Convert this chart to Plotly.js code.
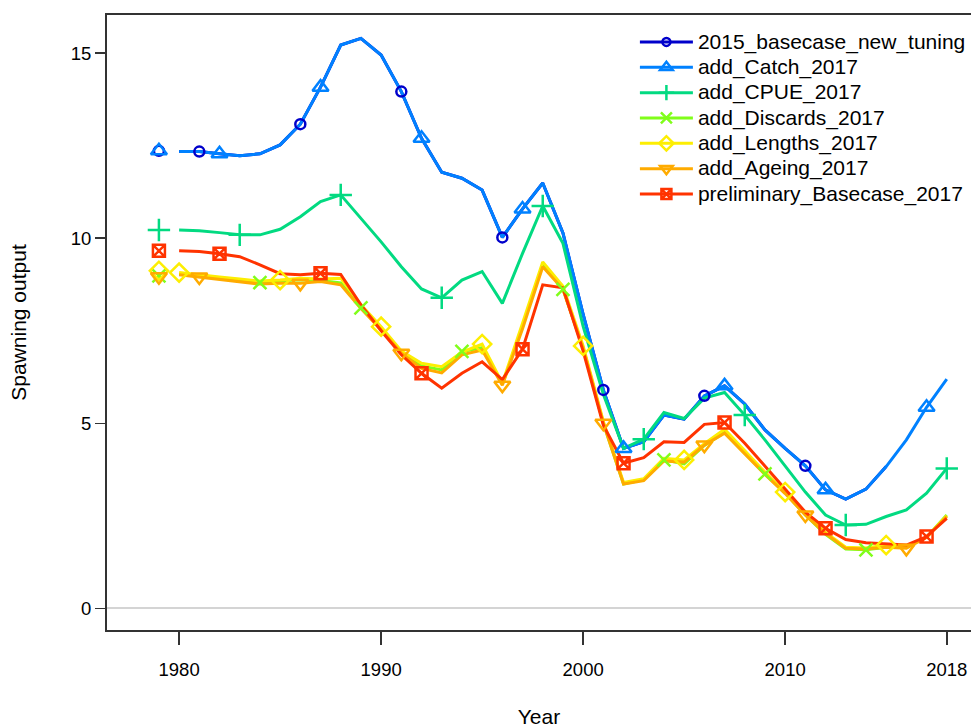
<!DOCTYPE html>
<html>
<head>
<meta charset="utf-8">
<script src="https://cdn.plot.ly/plotly-3.0.1.min.js"></script>
<style>
  html, body { margin: 0; padding: 0; background: #ffffff; }
  #chart { width: 971px; height: 728px; }
</style>
</head>
<body>
<div id="chart"></div>
<script>
// ---- Data ----
const modelNames = [
  "2015_basecase_new_tuning",
  "add_Catch_2017",
  "add_CPUE_2017",
  "add_Discards_2017",
  "add_Lengths_2017",
  "add_Ageing_2017",
  "preliminary_Basecase_2017"
];

const virginYear = 1979;

const years = [1980,1981,1982,1983,1984,1985,1986,1987,1988,1989,
               1990,1991,1992,1993,1994,1995,1996,1997,1998,1999,
               2000,2001,2002,2003,2004,2005,2006,2007,2008,2009,
               2010,2011,2012,2013,2014,2015,2016,2017,2018];

// virgin (unfished) spawning output, plotted at 1979
const virginValues = [12.36, 12.36, 10.22, 8.98, 9.12, 8.96, 9.66];

const basecase2015 = [12.34,12.34,12.28,12.23,12.28,12.52,13.08,14.08,15.22,15.40,
                      14.95,13.96,12.70,11.78,11.62,11.30,10.02,10.79,11.49,10.14,
                      7.94,5.90,4.32,4.50,5.22,5.11,5.74,6.01,5.52,4.82,
                      4.32,3.85,3.20,2.95,3.22,3.83];
const addCatch = [12.34,12.34,12.28,12.23,12.28,12.52,13.08,14.08,15.22,15.40,
                  14.95,13.96,12.70,11.78,11.62,11.30,10.02,10.79,11.49,10.14,
                  7.94,5.90,4.32,4.50,5.22,5.11,5.74,6.01,5.52,4.82,
                  4.32,3.85,3.20,2.95,3.22,3.83,4.55,5.43,6.19];
const addCPUE = [10.22,10.20,10.15,10.09,10.09,10.24,10.58,10.99,11.17,10.55,
                 9.90,9.23,8.63,8.39,8.87,9.10,8.24,9.59,10.87,9.86,
                 7.62,5.78,4.32,4.57,5.29,5.13,5.68,5.83,5.22,4.55,
                 3.86,3.14,2.52,2.25,2.27,2.48,2.66,3.11,3.78];
const addDiscards = [9.03,8.97,8.92,8.87,8.80,8.85,8.88,8.86,8.79,8.12,
                     7.56,6.91,6.55,6.44,6.94,7.04,6.05,7.62,9.30,8.62,
                     7.04,5.00,3.36,3.48,4.01,3.90,4.40,4.75,4.20,3.63,
                     3.12,2.52,2.00,1.60,1.58,1.65,1.68,1.92,2.52];
const addLengths = [9.07,9.00,8.95,8.90,8.84,8.87,8.92,8.90,8.92,8.20,
                    7.61,6.95,6.62,6.53,6.92,7.14,6.08,7.70,9.36,8.70,
                    7.09,5.05,3.40,3.50,4.05,4.01,4.45,4.84,4.25,3.68,
                    3.14,2.55,2.05,1.65,1.63,1.71,1.68,1.92,2.50];
const addAgeing = [9.01,8.95,8.89,8.84,8.76,8.78,8.78,8.83,8.74,8.10,
                   7.52,6.89,6.48,6.36,6.85,6.98,6.03,7.55,9.23,8.62,
                   7.02,5.00,3.36,3.45,3.98,3.95,4.41,4.73,4.18,3.62,
                   3.10,2.52,2.02,1.62,1.60,1.65,1.62,1.92,2.48];
const prelimBase = [9.66,9.64,9.58,9.50,9.28,9.04,9.01,9.05,9.02,8.20,
                    7.50,6.85,6.35,5.95,6.35,6.66,6.18,7.00,8.74,8.66,
                    6.95,4.95,3.92,4.07,4.50,4.48,4.97,5.02,4.46,3.83,
                    3.20,2.60,2.16,1.86,1.77,1.74,1.71,1.94,2.43];

const seriesValues = [basecase2015, addCatch, addCPUE, addDiscards, addLengths, addAgeing, prelimBase];

const xTickVals = [1980, 1990, 2000, 2010, 2018];
const yTickVals = [0, 5, 10, 15];

// ---- Styles ----
const colors = ['#0000CB', '#0081FF', '#02DA81', '#80FE1A', '#FDEE02', '#FFAB00', '#FF3300'];
const symbols = ['circle-open', 'triangle-up-open', 'cross-thin-open', 'x-thin-open',
                 'diamond-open', 'triangle-down-open', 'square-x-open'];
const msizes = [10, 14, 16, 13, 14, 14, 12];
const FONT = 'Liberation Sans, Arial, sans-serif';

const lineTraces = [];
const markerTraces = [];
const legendTraces = [];

seriesValues.forEach((vals, i) => {
  const yrs = years.slice(0, vals.length);
  lineTraces.push({
    type: 'scatter', mode: 'lines', x: yrs, y: vals,
    line: {color: colors[i], width: 3},
    showlegend: false, hoverinfo: 'skip', legendgroup: 'g' + i
  });
  // markers every 5th year (staggered by model), plus virgin point
  const mx = [virginYear], my = [virginValues[i]];
  yrs.forEach((yr, k) => {
    if ((((yr - (1981 + i)) % 5) + 5) % 5 === 0) { mx.push(yr); my.push(vals[k]); }
  });
  markerTraces.push({
    type: 'scatter', mode: 'markers', x: mx, y: my,
    marker: {symbol: symbols[i], size: msizes[i], color: colors[i],
             line: {color: colors[i], width: 2.5}},
    showlegend: false, hoverinfo: 'skip', legendgroup: 'g' + i
  });
  legendTraces.push({
    type: 'scatter', mode: 'lines+markers', x: [null], y: [null],
    name: '<span style="font-size:21px">' + modelNames[i] + '</span>',
    line: {color: colors[i], width: 3},
    marker: {symbol: symbols[i], size: Math.min(msizes[i] - 2, 11), color: colors[i],
             line: {color: colors[i], width: 2.5}},
    showlegend: true, legendgroup: 'g' + i
  });
});

const data = lineTraces.concat(markerTraces).concat(legendTraces);

const layout = {
  width: 971, height: 728,
  margin: {l: 107, r: 0, t: 15, b: 98, pad: 0},
  paper_bgcolor: '#ffffff', plot_bgcolor: '#ffffff',
  font: {family: FONT, color: '#000000', size: 18},
  showlegend: true,
  legend: {
    x: 0.611, y: 0.985, xanchor: 'left', yanchor: 'top',
    bgcolor: 'rgba(0,0,0,0)', borderwidth: 0,
    font: {family: FONT, size: 17.2, color: '#000000'},
    tracegroupgap: 0, itemwidth: 53,
    traceorder: 'normal'
  },
  xaxis: {
    range: [1976.43, 2019.2],
    tickmode: 'array', tickvals: xTickVals, ticktext: xTickVals.map(String),
    ticks: 'outside', ticklen: 13, tickwidth: 1.5, tickcolor: '#333333',
    ticklabelstandoff: 9,
    showline: true, linecolor: '#333333', linewidth: 2, mirror: true,
    showgrid: false, zeroline: false,
    tickfont: {family: FONT, size: 18.5, color: '#000000'},
    title: {text: 'Year', font: {family: FONT, size: 21, color: '#000000'}, standoff: 32},
    automargin: false
  },
  yaxis: {
    range: [-0.586, 16.03],
    tickmode: 'array', tickvals: yTickVals, ticktext: yTickVals.map(String),
    ticks: 'outside', ticklen: 10, tickwidth: 1.5, tickcolor: '#333333',
    showline: true, linecolor: '#333333', linewidth: 2, mirror: false,
    showgrid: false,
    zeroline: true, zerolinecolor: '#d4d4d4', zerolinewidth: 2,
    tickfont: {family: FONT, size: 18.5, color: '#000000'},
    title: {text: 'Spawning output', font: {family: FONT, size: 21, color: '#000000'}, standoff: 38},
    automargin: false
  }
};

Plotly.newPlot('chart', data, layout, {displayModeBar: false, staticPlot: true});
</script>
</body>
</html>
